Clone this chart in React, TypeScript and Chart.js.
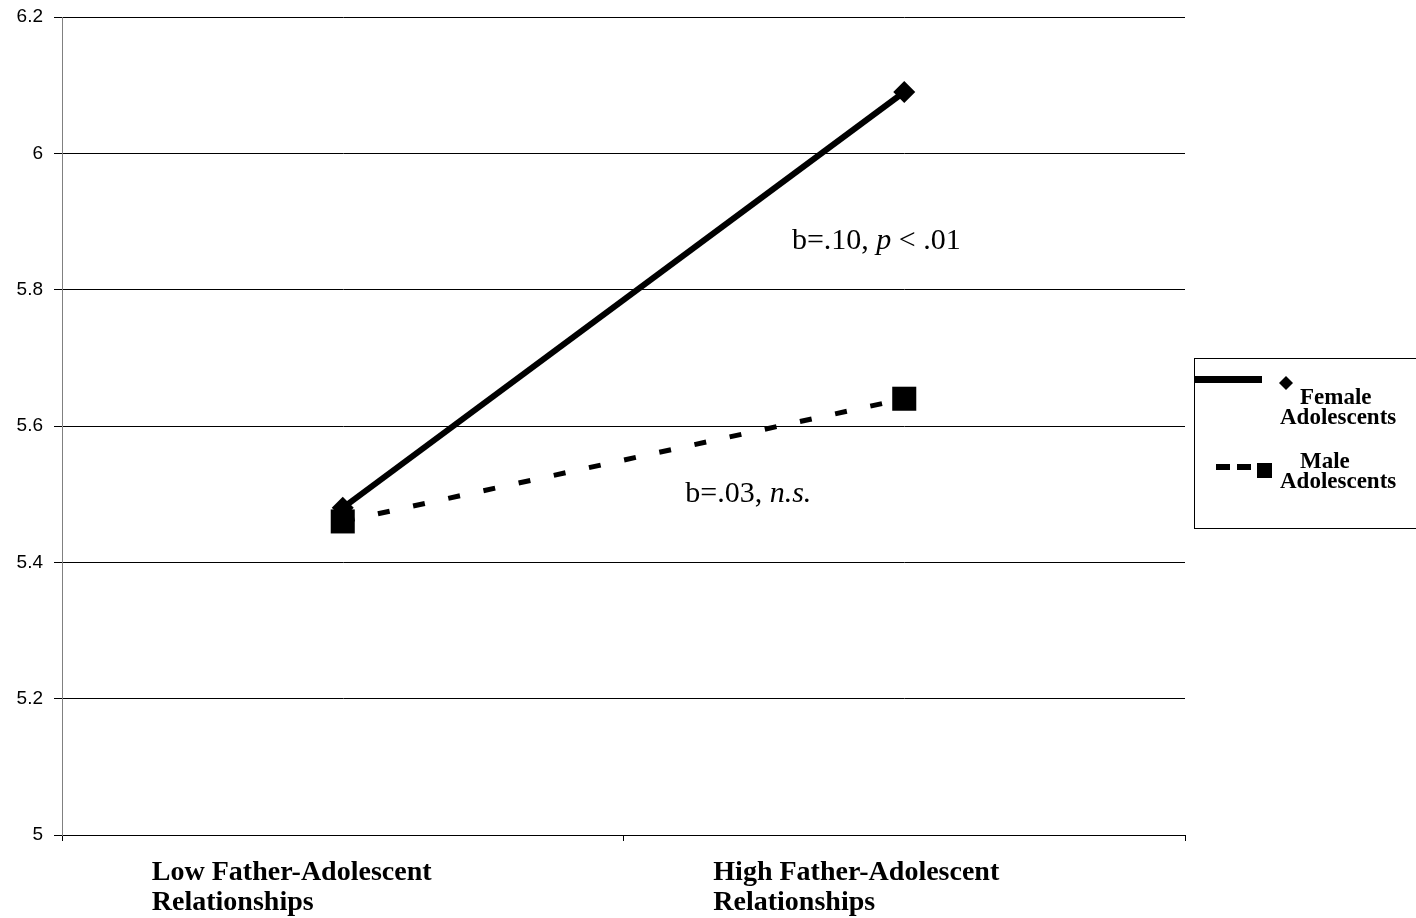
import React, { useEffect, useRef } from "react";
import { Chart, registerables } from "chart.js";

Chart.register(...registerables);

const categories = ["Low Father-Adolescent Relationships", "High Father-Adolescent Relationships"];
const categoryLines = [
  ["Low Father-Adolescent", "Relationships"],
  ["High Father-Adolescent", "Relationships"],
];
const femaleValues = [5.48, 6.09];
const maleValues = [5.46, 5.64];
const seriesNames = ["Female", "Male"];
const yMin = 5;
const yMax = 6.2;
const yStep = 0.2;
const annotations = [
  { x: 0.8, y: 5.86, parts: [{ t: "b=.10, ", i: false }, { t: "p", i: true }, { t: " < .01", i: false }] },
  { x: 0.61, y: 5.488, parts: [{ t: "b=.03, ", i: false }, { t: "n.s.", i: true }] },
];

const SERIF = "'Liberation Serif', 'Times New Roman', serif";

const customDraw = {
  id: "customDraw",
  afterDraw(chart: any) {
    const ctx = chart.ctx as CanvasRenderingContext2D;
    const xs = chart.scales.x;
    const ys = chart.scales.y;
    const ca = chart.chartArea;
    ctx.save();
    // category labels
    const catW = (ca.right - ca.left) / categories.length;
    ctx.fillStyle = "#000";
    ctx.font = `bold 28px ${SERIF}`;
    ctx.textAlign = "left";
    ctx.textBaseline = "alphabetic";
    categoryLines.forEach((lines, i) => {
      const cx = xs.getPixelForValue(i);
      const left = cx - catW * 0.34;
      lines.forEach((ln, j) => {
        ctx.fillText(ln, left, ca.bottom + 45 + j * 30);
      });
    });
    // annotations
    annotations.forEach((a) => {
      let px = xs.getPixelForValue(a.x);
      const py = ys.getPixelForValue(a.y);
      a.parts.forEach((p) => {
        ctx.font = `${p.i ? "italic " : ""}30px ${SERIF}`;
        ctx.fillText(p.t, px, py);
        px += ctx.measureText(p.t).width;
      });
    });
    // legend
    const lx = ca.right + 9;
    const ly = 358;
    ctx.strokeStyle = "#000";
    ctx.lineWidth = 1;
    ctx.strokeRect(lx + 0.5, ly + 0.5, 300, 170);
    // female entry
    ctx.fillRect(lx + 1, ly + 18, 67, 7);
    ctx.beginPath();
    const dx = lx + 92, dy = ly + 25, r = 7;
    ctx.moveTo(dx - r, dy);
    ctx.lineTo(dx, dy - r);
    ctx.lineTo(dx + r, dy);
    ctx.lineTo(dx, dy + r);
    ctx.closePath();
    ctx.fill();
    ctx.font = `bold 23px ${SERIF}`;
    ctx.fillText(seriesNames[0], lx + 106, ly + 46);
    ctx.fillText("Adolescents", lx + 86, ly + 66);
    // male entry
    ctx.fillRect(lx + 22, ly + 106, 14, 6);
    ctx.fillRect(lx + 43, ly + 106, 14, 6);
    ctx.fillRect(lx + 63, ly + 105, 15, 15);
    ctx.fillText(seriesNames[1], lx + 106, ly + 110);
    ctx.fillText("Adolescents", lx + 86, ly + 130);
    ctx.restore();
  },
};

export default function App() {
  const ref = useRef<HTMLCanvasElement | null>(null);
  useEffect(() => {
    if (!ref.current) return;
    const chart = new Chart(ref.current, {
      type: "line",
      data: {
        labels: categories,
        datasets: [
          {
            label: seriesNames[0] + " Adolescents",
            data: femaleValues,
            borderColor: "#000",
            backgroundColor: "#000",
            borderWidth: 6,
            pointStyle: "rectRot",
            pointRadius: 11,
            pointBackgroundColor: "#000",
            pointBorderWidth: 0,
            order: 1,
          },
          {
            label: seriesNames[1] + " Adolescents",
            data: maleValues,
            borderColor: "#000",
            backgroundColor: "#000",
            borderWidth: 5,
            borderDash: [12, 24],
            pointStyle: "rect",
            pointRadius: 17,
            pointBackgroundColor: "#000",
            pointBorderWidth: 0,
            order: 0,
          },
        ],
      },
      options: {
        animation: false,
        responsive: true,
        maintainAspectRatio: false,
        layout: { padding: { top: 16, right: 231, left: 0, bottom: 0 } },
        plugins: { legend: { display: false }, tooltip: { enabled: false } },
        scales: {
          x: {
            type: "category",
            offset: true,
            grid: { offset: true, drawOnChartArea: false, tickLength: 6, color: "#000" },
            border: { color: "#000", width: 1 },
            ticks: { display: false },
            afterFit: (s: any) => {
              s.height = 83;
            },
          },
          y: {
            min: yMin,
            max: yMax,
            ticks: {
              stepSize: yStep,
              color: "#000",
              padding: 11,
              font: { family: "'Liberation Sans', Arial, sans-serif", size: 19 },
              callback: (v: any) => String(Math.round(Number(v) * 10) / 10),
            },
            grid: { color: "#000", tickLength: 8, lineWidth: 1 },
            border: { color: "#808080", width: 1 },
            afterFit: (s: any) => {
              s.width = 62;
              s.paddingTop = 0;
              s.paddingBottom = 0;
            },
          },
        },
      },
      plugins: [customDraw],
    });
    return () => chart.destroy();
  }, []);
  return (
    <div style={{ position: "fixed", left: 0, top: 0, width: 1416, height: 918, background: "#fff" }}>
      <canvas ref={ref} />
    </div>
  );
}
